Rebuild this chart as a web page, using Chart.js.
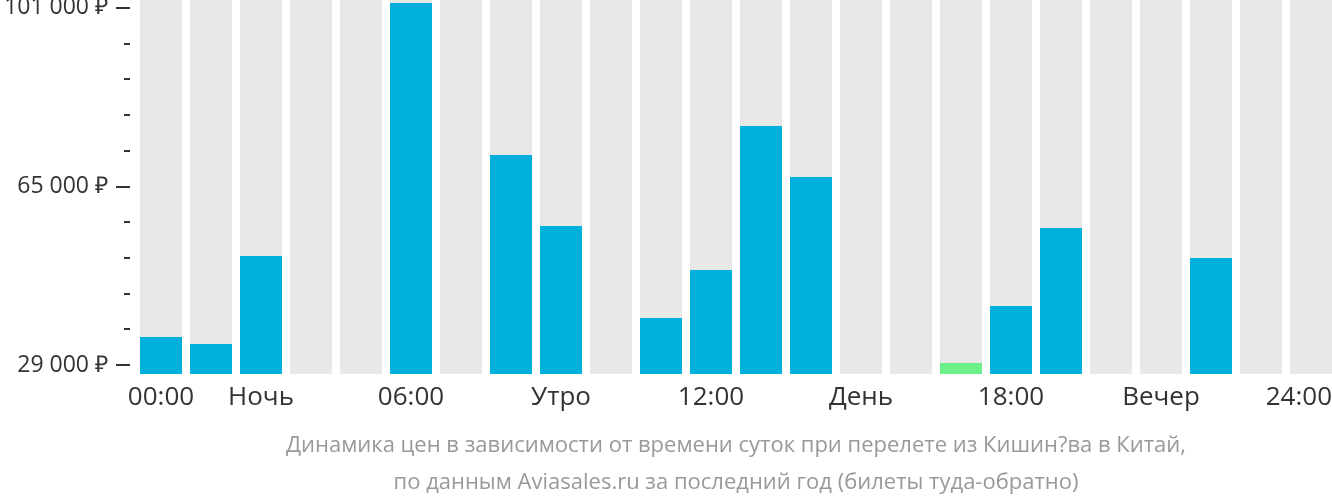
<!DOCTYPE html>
<html>
<head>
<meta charset="utf-8">
<script src="https://cdn.jsdelivr.net/npm/chart.js@4/dist/chart.umd.min.js"></script>
<style>
  html, body { margin: 0; padding: 0; background: #fff; overflow: hidden; }
  #wrap { width: 1336px; height: 502px; }
</style>
</head>
<body>
<div id="wrap"><canvas id="chart"></canvas></div>
<script>
// Подписи оси X (по часам, подпись каждые 3 часа)
const hourLabels = ['00:00', '', 'Ночь', '', '', '06:00', '', '', 'Утро', '', '', '12:00',
                    '', '', 'День', '', '', '18:00', '', '', 'Вечер', '', '', '24:00'];
// Цены по часам (null = нет данных)
const prices = [34650, 33250, 51000, null, null, 102000, null, 71350, 57050, null, 38500, 48150,
                77200, 66900, null, null, 29400, 40900, 56650, null, null, 50600, null, null];
// Деления оси Y
const yTicks = [29000, 36200, 43400, 50600, 57800, 65000, 72200, 79400, 86600, 93800, 101000];
const yLabeled = [29000, 65000, 101000];
const yMin = 27200;
const yMax = 102600;

const titleLines = [
    'Динамика цен в зависимости от времени суток при перелете из Кишин?ва в Китай,',
    'по данным Aviasales.ru за последний год (билеты туда-обратно)'
];

const minPrice = Math.min(...prices.filter(p => p !== null));
const barColors = prices.map(p => p === minPrice ? '#6cf08a' : '#00b0dc');
const background = prices.map(() => yMax);

function formatRub(v) {
    return String(v).replace(/\B(?=(\d{3})+(?!\d))/g, ' ') + ' ₽';
}

// Рисует риски оси Y (длинные у подписанных значений)
const tickMarks = {
    id: 'tickMarks',
    beforeDraw(chart) {
        // последняя подпись оси X не должна выходить за край окна
        const items = chart.scales.x.getLabelItems();
        const last = items[items.length - 1];
        if (last) {
            last.options.textAlign = 'right';
            last.options.translation[0] = 1332;
        }
    },
    afterDraw(chart) {
        const ctx = chart.ctx;
        const y = chart.scales.y;
        ctx.save();
        ctx.strokeStyle = '#333';
        ctx.lineWidth = 2;
        yTicks.forEach(v => {
            const py = Math.round(y.getPixelForValue(v));
            const major = yLabeled.includes(v);
            ctx.beginPath();
            ctx.moveTo(major ? 116 : 124, py);
            ctx.lineTo(130, py);
            ctx.stroke();
        });
        ctx.restore();
    }
};

new Chart(document.getElementById('chart'), {
    type: 'bar',
    data: {
        labels: hourLabels,
        datasets: [{
            data: prices,
            backgroundColor: barColors,
            grouped: false,
            order: 0,
            barPercentage: 0.84,
            categoryPercentage: 1
        }, {
            data: background,
            backgroundColor: '#e8e8e8',
            grouped: false,
            order: 1,
            barPercentage: 0.84,
            categoryPercentage: 1
        }]
    },
    options: {
        responsive: true,
        maintainAspectRatio: false,
        animation: false,
        layout: { padding: 0 },
        plugins: { legend: { display: false }, tooltip: { enabled: false } },
        scales: {
            x: {
                grid: { display: false, drawTicks: false },
                border: { display: false },
                ticks: {
                    autoSkip: false,
                    maxRotation: 0,
                    padding: 8,
                    color: '#333',
                    font: { family: 'Open Sans', size: 26 }
                },
                title: {
                    display: true,
                    text: titleLines,
                    color: '#999',
                    padding: { top: 0, bottom: 1 },
                    font: { family: 'Open Sans', size: 22, lineHeight: 1.66 }
                },
                afterFit(scale) {
                    scale.height = 128;
                    scale.paddingLeft = 0;
                    scale.paddingRight = 0;
                }
            },
            y: {
                min: yMin,
                max: yMax,
                grid: { display: false, drawTicks: false },
                border: { display: false },
                afterBuildTicks(scale) {
                    scale.ticks = yTicks.map(v => ({ value: v }));
                },
                ticks: {
                    padding: 28,
                    color: '#333',
                    font: { family: 'Open Sans', size: 23 },
                    callback: v => yLabeled.includes(v) ? formatRub(v) : ''
                },
                afterFit(scale) {
                    scale.width = 136;
                    scale.paddingTop = 0;
                    scale.paddingBottom = 0;
                }
            }
        }
    },
    plugins: [tickMarks]
});
</script>
</body>
</html>
